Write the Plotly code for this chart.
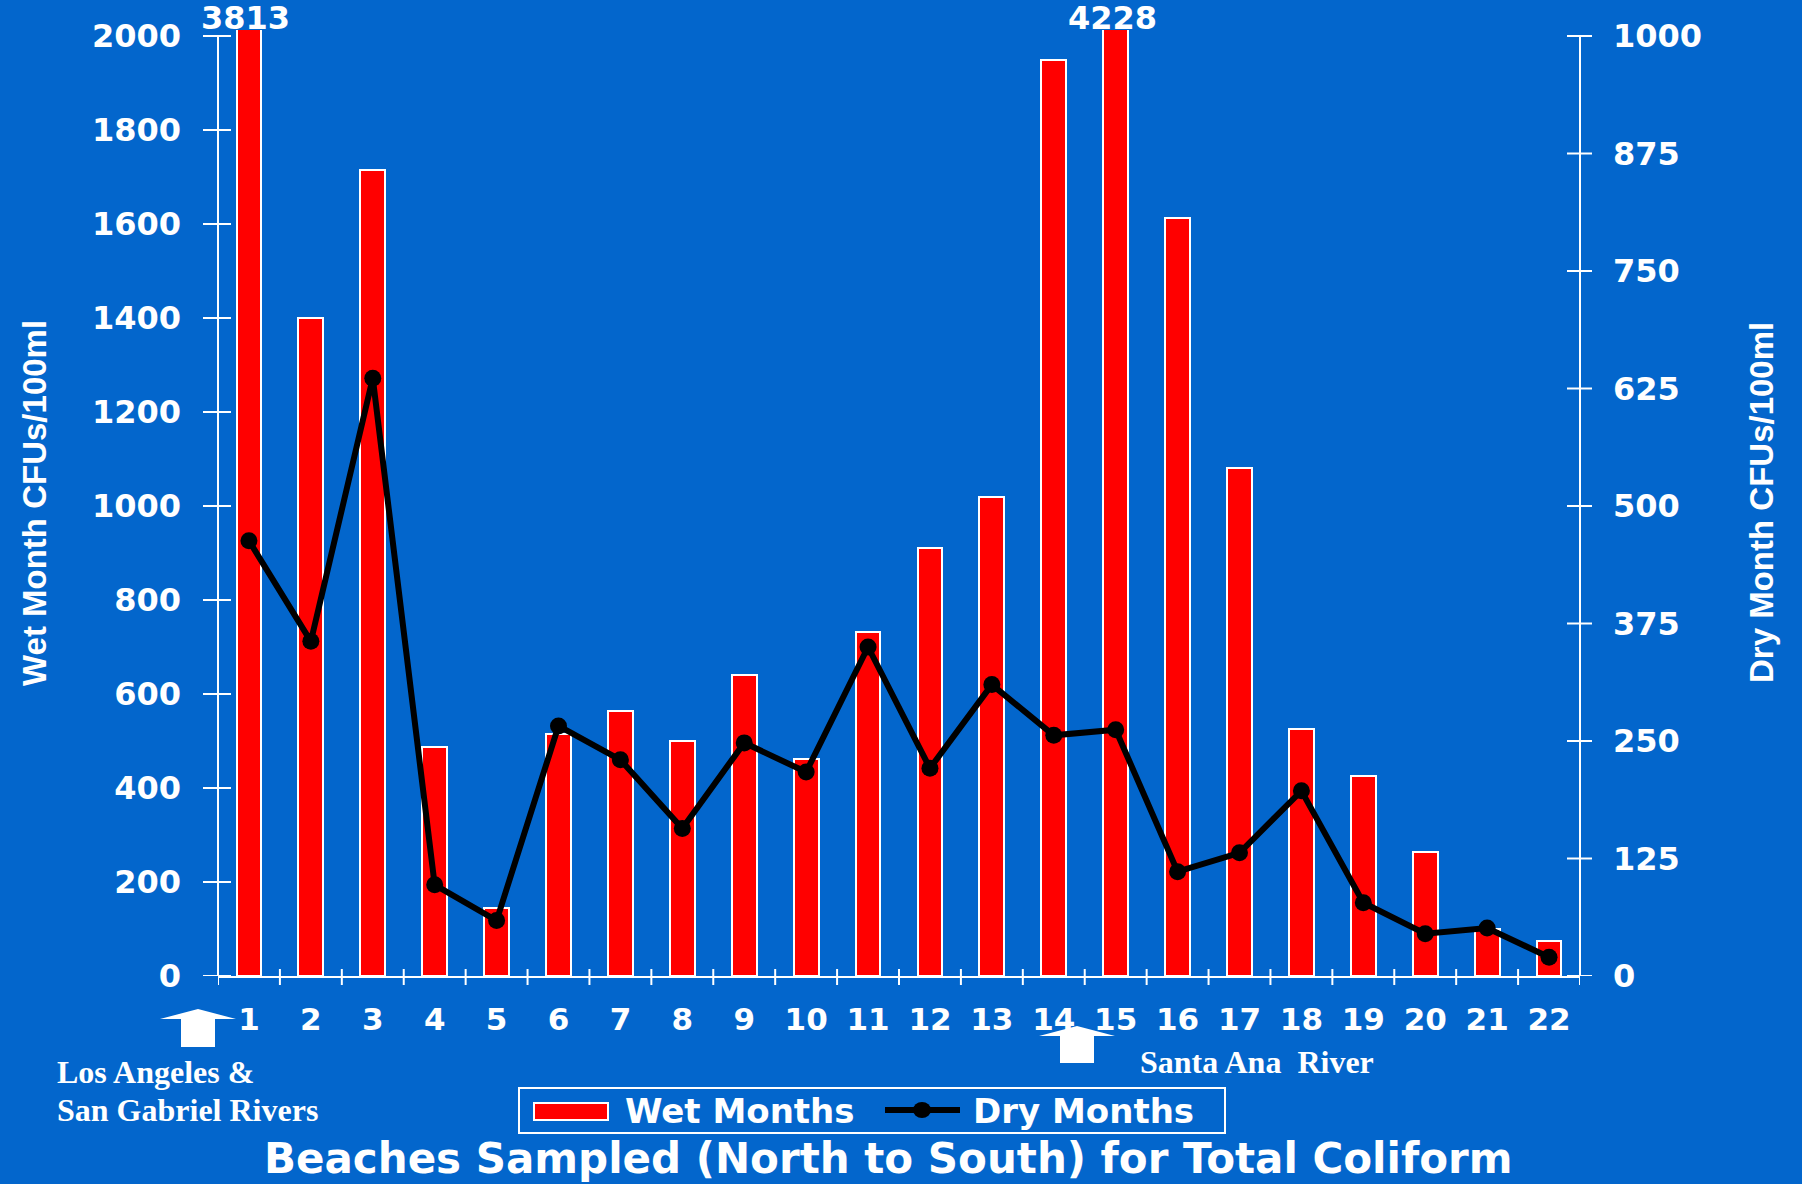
import plotly.graph_objects as go

# Beach index (north to south) and total coliform results
beaches = list(range(1, 23))
wet_months = [3813, 1400, 1715, 488, 145, 515, 563, 501, 640, 462, 731,
              910, 1019, 1949, 4228, 1613, 1081, 526, 425, 264, 101, 75]
dry_months = [463, 356, 636, 97, 59, 266, 230, 157, 248, 217, 350,
              221, 310, 256, 262, 111, 131, 197, 78, 45, 51, 20]

wet_ticks = [0, 200, 400, 600, 800, 1000, 1200, 1400, 1600, 1800, 2000]
dry_ticks = [0, 125, 250, 375, 500, 625, 750, 875, 1000]
wet_max = 2000
dry_max = 1000

BG = "#0366CC"
WHITE = "white"
W, H = 1802, 1184
M_L, M_R, M_T, M_B = 218, 222, 30, 208
plot_h = H - M_T - M_B
axis_px = 940  # pixel height of the 0..max span
headroom = plot_h / axis_px

bold = dict(family="DejaVu Sans, Verdana, sans-serif", weight="bold", color=WHITE)
serif = dict(family="Liberation Serif, Times New Roman, serif", weight="bold", color=WHITE)
arial = dict(family="Liberation Sans, Arial, sans-serif", weight="bold", color=WHITE)

fig = go.Figure()
fig.add_trace(go.Bar(
    x=beaches, y=wet_months, name="Wet Months", width=0.4,
    marker=dict(color="#FF0000", line=dict(color=WHITE, width=2)),
    yaxis="y", showlegend=False,
))
fig.add_trace(go.Scatter(
    x=beaches, y=dry_months, name="Dry Months", mode="lines+markers",
    line=dict(color="black", width=6),
    marker=dict(color="black", size=17),
    yaxis="y2", showlegend=False,
))

shapes = []
# axis spines limited to the labelled span
shapes.append(dict(type="line", xref="paper", yref="y", x0=0, x1=0, y0=0, y1=wet_max,
                   line=dict(color=WHITE, width=2)))
shapes.append(dict(type="line", xref="paper", yref="y2", x0=1, x1=1, y0=0, y1=dry_max,
                   line=dict(color=WHITE, width=2)))
# cross ticks on both value axes
for v in wet_ticks:
    shapes.append(dict(type="line", xref="paper", xsizemode="pixel", xanchor=0,
                       x0=-15, x1=13, yref="y", y0=v, y1=v,
                       line=dict(color=WHITE, width=2)))
for v in dry_ticks:
    shapes.append(dict(type="line", xref="paper", xsizemode="pixel", xanchor=1,
                       x0=-13, x1=12, yref="y2", y0=v, y1=v,
                       line=dict(color=WHITE, width=2)))
# category boundary ticks on the x axis
for i in range(len(beaches) + 1):
    b = beaches[0] - 0.5 + i
    shapes.append(dict(type="line", xref="x", x0=b, x1=b, yref="paper",
                       ysizemode="pixel", yanchor=0, y0=7, y1=-9,
                       line=dict(color=WHITE, width=2)))

# river mouth arrows (pixel offsets from the plot's lower-left corner)
def arrow(cx, tip, base, bottom, head_w=38, shaft_w=17):
    return dict(
        type="path", xref="paper", yref="paper", xsizemode="pixel", ysizemode="pixel",
        xanchor=0, yanchor=0, fillcolor=WHITE, line=dict(color=WHITE, width=0),
        path=(f"M{cx},{tip} L{cx + head_w},{base} L{cx + shaft_w},{base} "
              f"L{cx + shaft_w},{bottom} L{cx - shaft_w},{bottom} "
              f"L{cx - shaft_w},{base} L{cx - head_w},{base} Z"),
    )

shapes.append(arrow(-20, -33, -43, -71))
shapes.append(arrow(859, -50, -60, -87))

# legend frame and symbols
shapes.append(dict(type="rect", xref="paper", yref="paper", xsizemode="pixel",
                   ysizemode="pixel", xanchor=0, yanchor=0, x0=301, x1=1007,
                   y0=-112, y1=-157, line=dict(color=WHITE, width=2)))
shapes.append(dict(type="rect", xref="paper", yref="paper", xsizemode="pixel",
                   ysizemode="pixel", xanchor=0, yanchor=0, x0=316, x1=390,
                   y0=-127, y1=-144, fillcolor="#FF0000",
                   line=dict(color=WHITE, width=2)))
shapes.append(dict(type="line", xref="paper", yref="paper", xsizemode="pixel",
                   ysizemode="pixel", xanchor=0, yanchor=0, x0=667, x1=742,
                   y0=-134, y1=-134, line=dict(color="black", width=6)))
shapes.append(dict(type="circle", xref="paper", yref="paper", xsizemode="pixel",
                   ysizemode="pixel", xanchor=0, yanchor=0, x0=695, x1=713,
                   y0=-126, y1=-142, fillcolor="black",
                   line=dict(color="black", width=0)))

annotations = []
# values of bars that run off the top of the scale
for b, v in zip(beaches, wet_months):
    if v > wet_max:
        annotations.append(dict(x=b, y=1, xref="x", yref="paper", text=str(v),
                                showarrow=False, yanchor="middle", yshift=12,
                                xshift=-3, font=dict(bold, size=32)))

annotations += [
    dict(x=0, y=0.5, xref="paper", yref="paper", xshift=-184, textangle=-90,
         xanchor="center", yanchor="middle",
         text="Wet Month CFUs/100ml", showarrow=False, font=dict(arial, size=33)),
    dict(x=1, y=0.5, xref="paper", yref="paper", xshift=181, textangle=-90,
         xanchor="center", yanchor="middle",
         text="Dry Month CFUs/100ml", showarrow=False, font=dict(arial, size=33)),
    dict(x=0, y=0, xref="paper", yref="paper", xshift=405, yshift=-135,
         xanchor="left", yanchor="middle", text="Wet Months", showarrow=False,
         font=dict(bold, size=34)),
    dict(x=0, y=0, xref="paper", yref="paper", xshift=753, yshift=-135,
         xanchor="left", yanchor="middle", text="Dry Months", showarrow=False,
         font=dict(bold, size=34)),
    dict(x=0, y=0, xref="paper", yref="paper", xshift=-163, yshift=-96,
         xanchor="left", yanchor="middle", text="Los Angeles &", showarrow=False,
         font=dict(serif, size=32)),
    dict(x=0, y=0, xref="paper", yref="paper", xshift=-163, yshift=-134,
         xanchor="left", yanchor="middle", text="San Gabriel Rivers", showarrow=False,
         font=dict(serif, size=32)),
    dict(x=0, y=0, xref="paper", yref="paper", xshift=920, yshift=-86,
         xanchor="left", yanchor="middle", text="Santa Ana\u00a0 River", showarrow=False,
         font=dict(serif, size=32)),
    dict(x=0.492, y=0, xref="paper", yref="paper", yshift=-182,
         xanchor="center", yanchor="middle",
         text="Beaches Sampled (North to South) for Total Coliform", showarrow=False,
         font=dict(bold, size=42)),
]

fig.update_layout(
    width=W, height=H,
    margin=dict(l=M_L, r=M_R, t=M_T, b=M_B, pad=0),
    paper_bgcolor=BG, plot_bgcolor=BG,
    bargap=0,
    xaxis=dict(range=[0.5, len(beaches) + 0.5], tickvals=beaches,
               ticktext=[str(b) for b in beaches], showgrid=False, zeroline=False,
               showline=True, linecolor=WHITE, linewidth=2, ticks="",
               ticklabelstandoff=15, tickfont=dict(bold, size=31), fixedrange=True),
    yaxis=dict(range=[0, wet_max * headroom], tickvals=wet_ticks,
               showgrid=False, zeroline=False, showline=False, ticks="",
               ticklabelstandoff=36, tickfont=dict(bold, size=32)),
    yaxis2=dict(range=[0, dry_max * headroom], tickvals=dry_ticks, overlaying="y",
                side="right", showgrid=False, zeroline=False, showline=False,
                ticks="", ticklabelstandoff=32, tickfont=dict(bold, size=32)),
    shapes=shapes,
    annotations=annotations,
    showlegend=False,
)

fig.write_html("out.html")
